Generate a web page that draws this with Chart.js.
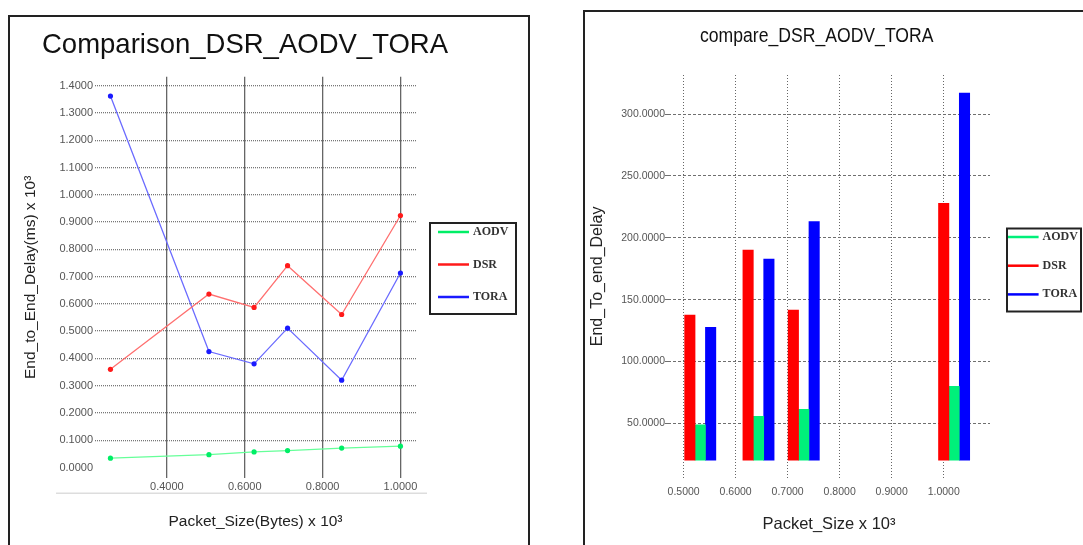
<!DOCTYPE html>
<html>
<head>
<meta charset="utf-8">
<script src="https://cdn.jsdelivr.net/npm/chart.js@4.4.1/dist/chart.umd.min.js"></script>
<style>
  body { margin: 0; width: 1083px; height: 545px; overflow: hidden; background: #fff; position: relative; font-family: "Liberation Sans", Arial, sans-serif; }
  .frame { position: absolute; border: 2px solid #222; border-bottom: none; }
  .frame canvas { position: absolute; left: 0; top: 0; }
  .title { position: absolute; white-space: nowrap; line-height: 1; color: #111; }
</style>
</head>
<body>
<div class="frame" style="left:8px; top:15px; width:518px; height:545px;">
  <canvas id="lineChart" width="518" height="528"></canvas>
</div>
<div class="frame" style="left:583px; top:10px; width:520px; height:550px;">
  <canvas id="barChart" width="498" height="533"></canvas>
</div>
<div class="title" style="left:42px; top:30px; font-size:27.5px;">Comparison_DSR_AODV_TORA</div>
<div class="title" style="left:700px; top:25px; font-size:20px; transform:scaleX(0.88); transform-origin:left top;">compare_DSR_AODV_TORA</div>

<script>
// left chart: delay vs packet size (lines)
const lineSizes = [0.255, 0.508, 0.624, 0.710, 0.849, 1.000];
const lineAodv = [0.034, 0.047, 0.057, 0.062, 0.071, 0.078];
const lineDsr = [0.360, 0.636, 0.587, 0.740, 0.561, 0.924];
const lineTora = [1.362, 0.425, 0.380, 0.511, 0.320, 0.713];
const lineXTicks = [0.4, 0.6, 0.8, 1.0];
const lineYTicks = [0, 0.1, 0.2, 0.3, 0.4, 0.5, 0.6, 0.7, 0.8, 0.9, 1.0, 1.1, 1.2, 1.3, 1.4];

// right chart: delay vs packet size (bars)
const barSizes = [0.532, 0.644, 0.731, 1.020];
const barAodv = [48.9, 55.7, 61.3, 80.0];
const barDsr = [137.5, 190.0, 141.6, 227.8];
const barTora = [127.6, 182.9, 213.2, 316.9];
const barXTicks = [0.5, 0.6, 0.7, 0.8, 0.9, 1.0];
const barYTicks = [50, 100, 150, 200, 250, 300];

Chart.defaults.font.family = '"Liberation Sans", Arial, sans-serif';
Chart.defaults.color = '#555';

function points(xs, ys) {
    return xs.map(function (x, i) { return { x: x, y: ys[i] }; });
}

function fixedTicks(values) {
    return function (axis) {
        axis.ticks = values.map(function (v) { return { value: v }; });
    };
}

// legend drawn as a framed box with line samples
const framedLegend = {
    id: 'framedLegend',
    afterDraw(chart, args, opts) {
        const ctx = chart.ctx;
        ctx.save();
        ctx.lineWidth = 2;
        ctx.strokeStyle = '#222';
        ctx.strokeRect(opts.x, opts.y, opts.w, opts.h);
        ctx.font = opts.font;
        ctx.textBaseline = 'middle';
        chart.data.datasets.forEach(function (ds, i) {
            const y = opts.y + opts.first + i * opts.gap;
            ctx.strokeStyle = ds.backgroundColor;
            ctx.lineWidth = 2.5;
            ctx.beginPath();
            ctx.moveTo(opts.lineX, y);
            ctx.lineTo(opts.lineX + opts.lineLen, y);
            ctx.stroke();
            ctx.fillStyle = '#333';
            ctx.fillText(ds.label, opts.lineX + opts.lineLen + 4, y);
        });
        ctx.restore();
    }
};

// faint rule under the x tick labels
const bottomRule = {
    id: 'bottomRule',
    afterDraw(chart, args, opts) {
        if (!opts.show) return;
        const a = chart.chartArea;
        const ctx = chart.ctx;
        ctx.save();
        ctx.strokeStyle = '#ddd';
        ctx.lineWidth = 1.5;
        ctx.beginPath();
        ctx.moveTo(a.left - 39, a.bottom + 15.3);
        ctx.lineTo(a.right + 11, a.bottom + 15.3);
        ctx.stroke();
        ctx.restore();
    }
};

new Chart(document.getElementById('lineChart'), {
    type: 'line',
    data: {
        datasets: [{
            label: 'AODV',
            data: points(lineSizes, lineAodv),
            borderColor: '#66ff99',
            backgroundColor: '#00ee66'
        }, {
            label: 'DSR',
            data: points(lineSizes, lineDsr),
            borderColor: '#ff7070',
            backgroundColor: '#ff1a1a'
        }, {
            label: 'TORA',
            data: points(lineSizes, lineTora),
            borderColor: '#6b6bff',
            backgroundColor: '#1a1aff'
        }]
    },
    options: {
        responsive: false,
        animation: false,
        events: [],
        layout: { padding: { top: 59.7, right: 112, bottom: 0, left: 0 } },
        elements: {
            line: { borderWidth: 1.3, tension: 0 },
            point: { radius: 2.6, borderWidth: 0 }
        },
        scales: {
            x: {
                type: 'linear',
                min: 0.2154,
                max: 1.040,
                afterBuildTicks: fixedTicks(lineXTicks),
                grid: { color: '#666', lineWidth: 1.3, drawTicks: false },
                border: { display: false },
                ticks: { font: { size: 11 }, padding: 2, callback: function (v) { return v.toFixed(4); } },
                title: { display: true, text: 'Packet_Size(Bytes) x 10³', color: '#222', font: { size: 15.5 }, padding: { top: 17.5, bottom: 13.7 } }
            },
            y: {
                min: -0.0386,
                max: 1.433,
                afterBuildTicks: fixedTicks(lineYTicks),
                grid: {
                    color: function (c) { return c.tick && c.tick.value === 0 ? 'rgba(0,0,0,0)' : '#777'; },
                    lineWidth: 1.3,
                    drawTicks: false
                },
                border: { display: false, dash: [1, 1] },
                ticks: { font: { size: 11 }, padding: 2, callback: function (v) { return v.toFixed(4); } },
                title: { display: true, text: 'End_to_End_Delay(ms) x 10³', color: '#222', font: { size: 15.5 }, padding: { top: 11, bottom: 17.8 } }
            }
        },
        plugins: {
            legend: { display: false },
            tooltip: { enabled: false },
            framedLegend: { x: 420, y: 206, w: 86, h: 91, first: 9, gap: 32.5, lineX: 428, lineLen: 31, font: 'bold 12px "Liberation Serif", "Times New Roman", serif' },
            bottomRule: { show: true }
        }
    },
    plugins: [framedLegend, bottomRule]
});

new Chart(document.getElementById('barChart'), {
    type: 'bar',
    data: {
        datasets: [{
            label: 'AODV',
            data: points(barSizes, barAodv),
            backgroundColor: '#00f07a',
            order: 1
        }, {
            label: 'DSR',
            data: points(barSizes, barDsr),
            backgroundColor: '#ff0000',
            order: 0
        }, {
            label: 'TORA',
            data: points(barSizes, barTora),
            backgroundColor: '#0000ff',
            order: 2
        }]
    },
    options: {
        responsive: false,
        animation: false,
        events: [],
        layout: { padding: { top: 63, right: 93, bottom: 0, left: 0 } },
        datasets: {
            bar: { base: 20.3, barThickness: 10.4, borderWidth: 0 }
        },
        scales: {
            x: {
                type: 'linear',
                offset: false,
                min: 0.470,
                max: 1.089,
                afterBuildTicks: fixedTicks(barXTicks),
                grid: { offset: false, color: '#666', drawTicks: false },
                border: { display: false, dash: [1, 2] },
                ticks: { font: { size: 10.5 }, padding: 8, callback: function (v) { return v.toFixed(4); } },
                title: { display: true, text: 'Packet_Size x 10³', color: '#222', font: { size: 16.5 }, padding: { top: 7.7, bottom: 11.1 } }
            },
            y: {
                min: 6.0,
                max: 331.6,
                afterBuildTicks: fixedTicks(barYTicks),
                grid: { color: '#6f6f6f', drawTicks: true, tickLength: 3 },
                border: { display: false, dash: [3, 2] },
                ticks: { font: { size: 10.5 }, padding: 0, callback: function (v) { return v.toFixed(4); } },
                title: { display: true, text: 'End_To_end_Delay', color: '#222', font: { size: 16 }, padding: { top: 3, bottom: 14 } }
            }
        },
        plugins: {
            legend: { display: false },
            tooltip: { enabled: false },
            framedLegend: { x: 422, y: 216.5, w: 74, h: 83, first: 8.5, gap: 28.7, lineX: 423, lineLen: 30.6, font: 'bold 12px "Liberation Serif", "Times New Roman", serif' },
            bottomRule: { show: false }
        }
    },
    plugins: [framedLegend, bottomRule]
});
</script>
</body>
</html>
